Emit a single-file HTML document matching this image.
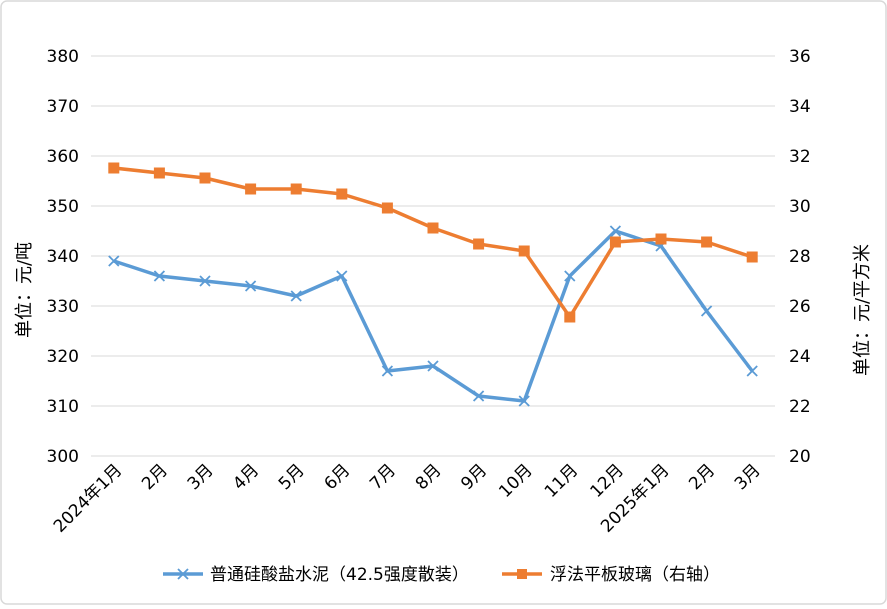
<!DOCTYPE html>
<html><head><meta charset="utf-8"><style>
body{margin:0;background:#fff;font-family:"DejaVu Sans","Noto Sans CJK SC",sans-serif;}
</style></head><body>
<svg id="c" width="887" height="605" xmlns="http://www.w3.org/2000/svg" font-family="DejaVu Sans, Noto Sans CJK SC, sans-serif">
<rect x="1" y="1" width="885" height="603" rx="6" fill="#fff" stroke="#d9d9d9" stroke-width="1.5"/>
<g id="grid"></g><g id="axes"></g><g id="series"></g>
<text transform="translate(30,290) rotate(-90)" text-anchor="middle" font-size="18" fill="#000">单位：元/吨</text>
<text transform="translate(868,310) rotate(-90)" text-anchor="middle" font-size="18" fill="#000">单位：元/平方米</text>
<g>
<g>
<line x1="163" y1="574" x2="203" y2="574" stroke="#5B9BD5" stroke-width="3.5"/>
<path d="M178,569 l10,10 M188,569 l-10,10" stroke="#5B9BD5" stroke-width="1.8"/>
<text x="210" y="580" font-size="17">普通硅酸盐水泥（42.5强度散装）</text></g>
<g>
<line x1="502" y1="574" x2="542" y2="574" stroke="#ED7D31" stroke-width="3.5"/>
<rect x="517" y="569" width="10" height="10" fill="#ED7D31"/>
<text x="550" y="580" font-size="17">浮法平板玻璃（右轴）</text></g>
</g>
</svg>
<script>
const categories=["2024年1月","2月","3月","4月","5月","6月","7月","8月","9月","10月","11月","12月","2025年1月","2月","3月"];
const cement=[339,336,335,334,332,336,317,318,312,311,336,345,342,329,317];
const glass=[31.52,31.32,31.12,30.68,30.68,30.48,29.92,29.12,28.48,28.2,25.56,28.56,28.68,28.56,27.96];
const leftTicks=[300,310,320,330,340,350,360,370,380];
const rightTicks=[20,22,24,26,28,30,32,34,36];
const NS="http://www.w3.org/2000/svg";
const X0=91,X1=775,Y0=456,Y1=56;
const bw=(X1-X0)/categories.length;
const xs=i=>X0+bw*(i+0.5);
const yl=v=>Y0-(v-300)/80*(Y0-Y1);
const yr=v=>Y0-(v-20)/16*(Y0-Y1);
function mk(t,a,p){const e=document.createElementNS(NS,t);for(const k in a)e.setAttribute(k,a[k]);p.appendChild(e);return e;}
const grid=document.getElementById('grid'),axes=document.getElementById('axes'),ser=document.getElementById('series');
leftTicks.forEach((v,i)=>{
 const l=mk('line',{x1:X0,x2:X1,y1:yl(v),y2:yl(v),stroke:'#d9d9d9','stroke-width':1},grid);
 
 
 const t=mk('text',{x:79,y:yl(v)+6,'text-anchor':'end','font-size':17},axes);t.textContent=v;
 
 
});
rightTicks.forEach(v=>{
 const t=mk('text',{x:789,y:yr(v)+6,'font-size':17},axes);t.textContent=v;
 
 
});
categories.forEach((c,i)=>{
 const t=mk('text',{transform:`translate(${xs(i)+9},${Y0+15}) rotate(-45)`,'text-anchor':'end','font-size':17},axes);t.textContent=c;
 
 
});
const pc=mk('polyline',{points:cement.map((v,i)=>xs(i)+','+yl(v)).join(' '),fill:'none',stroke:'#5B9BD5','stroke-width':3.5,'stroke-linejoin':'round'},ser);


cement.forEach((v,i)=>{const x=xs(i),y=yl(v);
 const m=mk('path',{d:`M${x-5},${y-5}l10,10M${x+5},${y-5}l-10,10`,stroke:'#5B9BD5','stroke-width':1.8},ser);
 
 
});
const pg=mk('polyline',{points:glass.map((v,i)=>xs(i)+','+yr(v)).join(' '),fill:'none',stroke:'#ED7D31','stroke-width':3.5,'stroke-linejoin':'round'},ser);


glass.forEach((v,i)=>{
 const m=mk('rect',{x:xs(i)-5.5,y:yr(v)-5.5,width:11,height:11,fill:'#ED7D31'},ser);
 
 
});
</script>
</body></html>
